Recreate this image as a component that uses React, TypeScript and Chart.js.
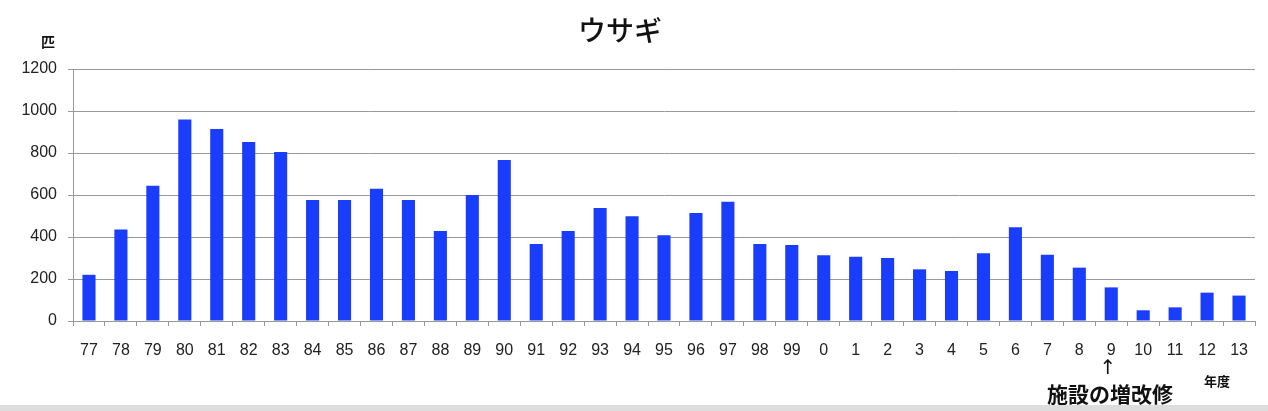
import React, { useEffect, useRef } from "react";
import { Chart, registerables } from "chart.js";

Chart.register(...registerables);

const years: string[] = [
  "77", "78", "79", "80", "81", "82", "83", "84", "85", "86", "87", "88", "89", "90",
  "91", "92", "93", "94", "95", "96", "97", "98", "99", "0", "1", "2", "3", "4", "5",
  "6", "7", "8", "9", "10", "11", "12", "13",
];

const rabbits: number[] = [
  220, 436, 644, 960, 914, 852, 805, 576, 576, 630, 576, 429, 600, 767,
  367, 429, 538, 499, 408, 514, 568, 367, 362, 313, 306, 300, 246, 238, 323,
  446, 316, 254, 160, 51, 65, 135, 121,
];

const yTicks: number[] = [0, 200, 400, 600, 800, 1000, 1200];

const titleText = "ウサギ";
const unitText = "匹";
const axisNameText = "年度";
const noteArrow = "↑";
const noteText = "施設の増改修";

const overlayPlugin = {
  id: "overlayText",
  afterDraw(chart: any) {
    const ctx = chart.ctx;
    ctx.save();
    ctx.fillStyle = "#111";
    ctx.textAlign = "center";
    ctx.textBaseline = "middle";
    ctx.font = "500 28px 'Noto Sans CJK JP'";
    ctx.fillText(titleText, 620, 30);
    ctx.font = "bold 14px 'Noto Sans CJK JP'";
    ctx.fillText(unitText, 48, 42);
    ctx.font = "bold 13px 'Noto Sans CJK JP'";
    ctx.fillText(axisNameText, 1217, 381);
    ctx.font = "20px 'DejaVu Sans'";
    ctx.fillText(noteArrow, 1108, 369);
    ctx.font = "bold 21px 'Noto Sans CJK JP'";
    ctx.fillText(noteText, 1110, 394);
    ctx.fillStyle = "#dddddd";
    ctx.fillRect(0, 405, 1268, 6);
    ctx.restore();
  },
};

export default function App() {
  const ref = useRef<HTMLCanvasElement | null>(null);
  useEffect(() => {
    if (!ref.current) return;
    const chart = new Chart(ref.current, {
      type: "bar",
      data: {
        labels: years,
        datasets: [
          {
            data: rabbits,
            backgroundColor: "#1a3dfc",
            borderWidth: 0,
            categoryPercentage: 1,
            barPercentage: 0.41,
          },
        ],
      },
      options: {
        animation: false,
        responsive: false,
        maintainAspectRatio: false,
        layout: { padding: { top: 69, right: 13, bottom: 0, left: 0 } },
        plugins: {
          legend: { display: false },
          title: { display: false },
          tooltip: { enabled: false },
        },
        scales: {
          x: {
            afterFit(scale: any) {
              scale.height = 90;
            },
            grid: {
              drawOnChartArea: false,
              drawTicks: true,
              tickLength: 5,
              color: "#999",
              offset: true,
            },
            border: { display: true, color: "#999", width: 1 },
            ticks: {
              color: "#222",
              font: { family: "'Liberation Sans', Arial", size: 16 },
              padding: 15,
              maxRotation: 0,
              autoSkip: false,
            },
          },
          y: {
            min: 0,
            max: 1200,
            afterFit(scale: any) {
              scale.width = 73;
            },
            afterBuildTicks(scale: any) {
              scale.ticks = yTicks.map((v) => ({ value: v }));
            },
            grid: {
              color: "#999",
              lineWidth: 1,
              tickLength: 5,
              drawTicks: true,
            },
            border: { display: true, color: "#999", width: 1 },
            ticks: {
              color: "#222",
              font: { family: "'Liberation Sans', Arial", size: 16 },
              padding: 11,
              callback: (v: any) => String(v),
            },
          },
        },
      },
      plugins: [overlayPlugin],
    });
    return () => chart.destroy();
  }, []);
  return (
    <div style={{ position: "absolute", left: 0, top: 0, width: 1268, height: 411, background: "#fff" }}>
      <canvas ref={ref} width={1268} height={411} style={{ width: 1268, height: 411 }} />
    </div>
  );
}
